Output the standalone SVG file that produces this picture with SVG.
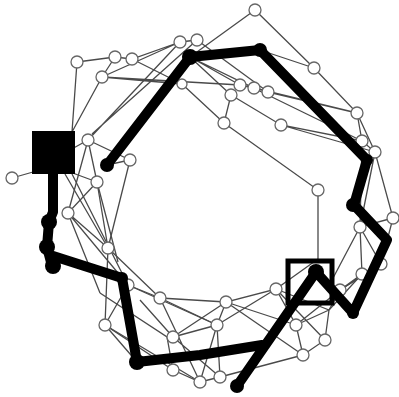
<svg xmlns="http://www.w3.org/2000/svg" width="399" height="397" viewBox="0 0 399 397">
<style>
.e{stroke:#4a4a4a;stroke-width:1.3;fill:none}
.n{fill:#fff;stroke:#666;stroke-width:1.3}
.t{stroke:#000;stroke-width:10;fill:none;stroke-linecap:round;stroke-linejoin:round}
.b{fill:#000}
</style>
<rect width="399" height="397" fill="#fff"/>
<g id="connectors">
<path class="e" d="M255,10L190,57M255,10L314,68L357,113L362,141L375,152L393,218L381,264L362,274L329,310M357,113L375,152M362,141L360,227L393,218M360,227L362,274M360,227L381,264M332,280L360,227M332,295L381,264M375,152L360,227"/>
<path class="e" d="M180,42L197,40M77,62L115,57L132,59L180,42M77,62L72,132M102,77L72,132M102,77L240,85M102,77L182,84M115,57L102,77M132,59L182,84M102,77L180,42"/>
<path class="e" d="M180,42L88,140M197,40L92,134M190,57L240,85M190,57L231,95M190,57L254,88M197,40L268,92M190,57L362,141M231,95L224,123L318,190L318,259M231,95L281,125L362,141M268,92L357,113M254,88L357,113M260,50L314,68M240,85L254,88L268,92M281,125L375,152M224,123L182,84"/>
<path class="e" d="M12,178L40,170M97,182L70,172M88,140L70,150M88,140L130,160L107,165M130,160L108,248M88,140L68,213M97,182L108,248M97,182L68,213L128,285M108,248L160,298M68,213L108,248M128,285L160,298M128,285L105,325L173,370M105,325L108,248M100,293L167,337L173,370M160,298L217,325M160,298L226,302M173,337L226,302M173,337L217,325M173,370L200,382L220,377L303,355M217,325L226,302L276,289L296,325L303,355M217,325L220,377M226,302L296,325M276,289L329,310L340,290M296,325L329,310M303,355L325,340L329,310M340,290L362,274M340,290L381,264M276,289L318,259M200,382L217,325M105,325L137,362"/>
<path class="e" d="M65,174L108,248M72,174L128,285M88,140L97,182M97,182L118,262M128,285L217,325M105,325L200,382M160,298L200,382M226,302L303,355M276,289L325,340M296,325L340,290M217,325L276,289M68,213L100,293M140,300L173,337M173,337L220,377"/>
</g>
<g id="n1"><circle class="n" cx="255" cy="10" r="6"/></g>
<g id="n2"><circle class="n" cx="180" cy="42" r="6"/></g>
<g id="n3"><circle class="n" cx="197" cy="40" r="6"/></g>
<g id="n4"><circle class="n" cx="77" cy="62" r="6"/></g>
<g id="n5"><circle class="n" cx="115" cy="57" r="6"/></g>
<g id="n6"><circle class="n" cx="132" cy="59" r="6"/></g>
<g id="n7"><circle class="n" cx="102" cy="77" r="6"/></g>
<g id="n8"><circle class="n" cx="182" cy="84" r="5"/></g>
<g id="n9"><circle class="n" cx="88" cy="140" r="6"/></g>
<g id="n10"><circle class="n" cx="130" cy="160" r="6"/></g>
<g id="n11"><circle class="n" cx="97" cy="182" r="6"/></g>
<g id="n12"><circle class="n" cx="12" cy="178" r="6"/></g>
<g id="n13"><circle class="n" cx="240" cy="85" r="6"/></g>
<g id="n14"><circle class="n" cx="254" cy="88" r="6"/></g>
<g id="n15"><circle class="n" cx="231" cy="95" r="6"/></g>
<g id="n16"><circle class="n" cx="268" cy="92" r="6"/></g>
<g id="n17"><circle class="n" cx="314" cy="68" r="6"/></g>
<g id="n18"><circle class="n" cx="224" cy="123" r="6"/></g>
<g id="n19"><circle class="n" cx="281" cy="125" r="6"/></g>
<g id="n20"><circle class="n" cx="357" cy="113" r="6"/></g>
<g id="n21"><circle class="n" cx="362" cy="141" r="6"/></g>
<g id="n22"><circle class="n" cx="375" cy="152" r="6"/></g>
<g id="n23"><circle class="n" cx="318" cy="190" r="6"/></g>
<g id="n24"><circle class="n" cx="360" cy="227" r="6"/></g>
<g id="n25"><circle class="n" cx="393" cy="218" r="6"/></g>
<g id="n26"><circle class="n" cx="381" cy="264" r="6"/></g>
<g id="n27"><circle class="n" cx="362" cy="274" r="6"/></g>
<g id="n28"><circle class="n" cx="340" cy="290" r="6"/></g>
<g id="n29"><circle class="n" cx="276" cy="289" r="6"/></g>
<g id="n30"><circle class="n" cx="226" cy="302" r="6"/></g>
<g id="n31"><circle class="n" cx="217" cy="325" r="6"/></g>
<g id="n32"><circle class="n" cx="296" cy="325" r="6"/></g>
<g id="n33"><circle class="n" cx="303" cy="355" r="6"/></g>
<g id="n34"><circle class="n" cx="325" cy="340" r="6"/></g>
<g id="n35"><circle class="n" cx="173" cy="370" r="6"/></g>
<g id="n36"><circle class="n" cx="200" cy="382" r="6"/></g>
<g id="n37"><circle class="n" cx="220" cy="377" r="6"/></g>
<g id="n38"><circle class="n" cx="160" cy="298" r="6"/></g>
<g id="n39"><circle class="n" cx="128" cy="285" r="6"/></g>
<g id="n40"><circle class="n" cx="105" cy="325" r="6"/></g>
<g id="n41"><circle class="n" cx="108" cy="248" r="6"/></g>
<g id="n42"><circle class="n" cx="68" cy="213" r="6"/></g>
<g id="n43"><circle class="n" cx="173" cy="337" r="6"/></g>
<g id="path">
<path class="t" d="M107,165L190,57L260,50L367,160L354,205L387,240L353,313L316,272L237,386"/>
<path class="t" d="M53,172L53,212L49,222L47,247L52,266M50,255L122,278L137,362L200,355L262,345"/>
<circle class="b" cx="107" cy="165" r="7"/>
<circle class="b" cx="190" cy="57" r="8"/>
<circle class="b" cx="260" cy="50" r="7"/>
<circle class="b" cx="367" cy="160" r="6"/>
<circle class="b" cx="353" cy="205" r="7"/>
<circle class="b" cx="353" cy="313" r="6"/>
<circle class="b" cx="316" cy="272" r="8"/>
<circle class="b" cx="237" cy="386" r="7"/>
<circle class="b" cx="137" cy="362" r="8"/>
<circle class="b" cx="49" cy="222" r="8"/>
<circle class="b" cx="47" cy="247" r="8"/>
<circle class="b" cx="53" cy="266" r="8"/>
<circle class="b" cx="122" cy="278" r="6"/>
</g>
<g id="sq1"><rect x="32" y="131" width="43" height="43" fill="#000"/></g>
<g id="sq2"><rect x="288" y="261" width="44" height="42" fill="none" stroke="#000" stroke-width="5"/></g>
</svg>
